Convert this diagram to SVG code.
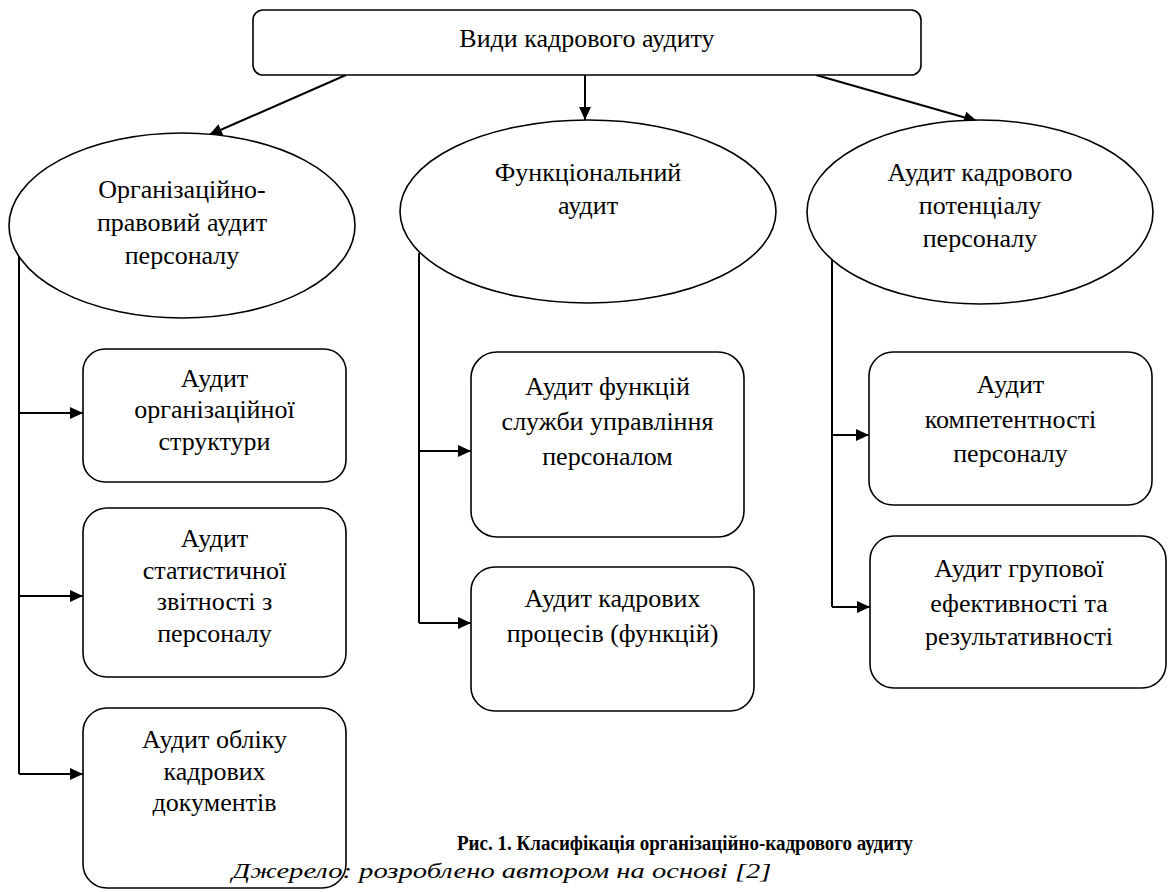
<svg xmlns="http://www.w3.org/2000/svg" width="1168" height="892" viewBox="0 0 1168 892">
<defs>
<marker id="ah" markerUnits="userSpaceOnUse" markerWidth="13" markerHeight="12" refX="13" refY="6" orient="auto">
<path d="M0,0 L13,6 L0,12 z" fill="#000"/>
</marker>
</defs>
<rect width="1168" height="892" fill="#fff"/>
<g id="connectors" fill="none" stroke="#000" stroke-width="2">
<path d="M346,75 L209,135" marker-end="url(#ah)"/>
<path d="M585,75 L585,120" marker-end="url(#ah)"/>
<path d="M816,75 L977,121" marker-end="url(#ah)"/>
<path d="M19,257 V774"/>
<path d="M19,413 H83" marker-end="url(#ah)"/>
<path d="M19,596 H83" marker-end="url(#ah)"/>
<path d="M19,774 H83" marker-end="url(#ah)"/>
<path d="M419,253 V623"/>
<path d="M419,451 H471" marker-end="url(#ah)"/>
<path d="M419,623 H471" marker-end="url(#ah)"/>
<path d="M832,259 V607"/>
<path d="M832,435 H869" marker-end="url(#ah)"/>
<path d="M832,607 H870" marker-end="url(#ah)"/>
</g>
<g id="root">
<rect x="253" y="10" width="668" height="65" rx="10" fill="#fff" stroke="#000" stroke-width="1.6"/>
<text x="587" y="47" font-family="Times New Roman" font-size="26" text-anchor="middle">Види кадрового аудиту</text>
</g>
<g id="e1">
<ellipse cx="182" cy="225.5" rx="173" ry="92.5" fill="#fff" stroke="#000" stroke-width="1.6"/>
<text x="182" y="198" font-family="Times New Roman" font-size="26" text-anchor="middle">Організаційно-</text>
<text x="182" y="231" font-family="Times New Roman" font-size="26" text-anchor="middle">правовий аудит</text>
<text x="182" y="264" font-family="Times New Roman" font-size="26" text-anchor="middle">персоналу</text>
</g>
<g id="e2">
<ellipse cx="588" cy="211.5" rx="188" ry="91.5" fill="#fff" stroke="#000" stroke-width="1.6"/>
<text x="588" y="181" font-family="Times New Roman" font-size="26" text-anchor="middle">Функціональний</text>
<text x="588" y="214" font-family="Times New Roman" font-size="26" text-anchor="middle">аудит</text>
</g>
<g id="e3">
<ellipse cx="980" cy="212" rx="173" ry="92" fill="#fff" stroke="#000" stroke-width="1.6"/>
<text x="980" y="181" font-family="Times New Roman" font-size="26" text-anchor="middle">Аудит кадрового</text>
<text x="980" y="214" font-family="Times New Roman" font-size="26" text-anchor="middle">потенціалу</text>
<text x="980" y="247" font-family="Times New Roman" font-size="26" text-anchor="middle">персоналу</text>
</g>
<g id="b1">
<rect x="83" y="349" width="263" height="133" rx="22" fill="#fff" stroke="#000" stroke-width="1.6"/>
<text x="214.5" y="387" font-family="Times New Roman" font-size="26" text-anchor="middle">Аудит</text>
<text x="214.5" y="418" font-family="Times New Roman" font-size="26" text-anchor="middle">організаційної</text>
<text x="214.5" y="450" font-family="Times New Roman" font-size="26" text-anchor="middle">структури</text>
</g>
<g id="b2">
<rect x="83" y="508" width="263" height="169" rx="24" fill="#fff" stroke="#000" stroke-width="1.6"/>
<text x="214.5" y="547" font-family="Times New Roman" font-size="26" text-anchor="middle">Аудит</text>
<text x="214.5" y="579" font-family="Times New Roman" font-size="26" text-anchor="middle">статистичної</text>
<text x="214.5" y="610" font-family="Times New Roman" font-size="26" text-anchor="middle">звітності з</text>
<text x="214.5" y="642" font-family="Times New Roman" font-size="26" text-anchor="middle">персоналу</text>
</g>
<g id="b3">
<rect x="83" y="708" width="263" height="180" rx="24" fill="#fff" stroke="#000" stroke-width="1.6"/>
<text x="214.5" y="748" font-family="Times New Roman" font-size="26" text-anchor="middle">Аудит обліку</text>
<text x="214.5" y="780" font-family="Times New Roman" font-size="26" text-anchor="middle">кадрових</text>
<text x="214.5" y="811" font-family="Times New Roman" font-size="26" text-anchor="middle">документів</text>
</g>
<g id="b4">
<rect x="471" y="352" width="273" height="185" rx="26" fill="#fff" stroke="#000" stroke-width="1.6"/>
<text x="607.5" y="395" font-family="Times New Roman" font-size="26" text-anchor="middle">Аудит функцій</text>
<text x="607.5" y="430" font-family="Times New Roman" font-size="26" text-anchor="middle">служби управління</text>
<text x="607.5" y="465" font-family="Times New Roman" font-size="26" text-anchor="middle">персоналом</text>
</g>
<g id="b5">
<rect x="471" y="567" width="283" height="144" rx="24" fill="#fff" stroke="#000" stroke-width="1.6"/>
<text x="612.5" y="607" font-family="Times New Roman" font-size="26" text-anchor="middle">Аудит кадрових</text>
<text x="612.5" y="642" font-family="Times New Roman" font-size="26" text-anchor="middle">процесів (функцій)</text>
</g>
<g id="b6">
<rect x="869" y="352" width="283" height="153" rx="24" fill="#fff" stroke="#000" stroke-width="1.6"/>
<text x="1010.5" y="393" font-family="Times New Roman" font-size="26" text-anchor="middle">Аудит</text>
<text x="1010.5" y="428" font-family="Times New Roman" font-size="26" text-anchor="middle">компетентності</text>
<text x="1010.5" y="462" font-family="Times New Roman" font-size="26" text-anchor="middle">персоналу</text>
</g>
<g id="b7">
<rect x="870" y="536" width="296" height="152" rx="24" fill="#fff" stroke="#000" stroke-width="1.6"/>
<text x="1019" y="577" font-family="Times New Roman" font-size="26" text-anchor="middle">Аудит групової</text>
<text x="1019" y="612" font-family="Times New Roman" font-size="26" text-anchor="middle">ефективності та</text>
<text x="1019" y="645" font-family="Times New Roman" font-size="26" text-anchor="middle">результативності</text>
</g>
<g id="caption">
<text transform="translate(457,850) scale(0.865,1)" font-family="Times New Roman" font-size="22" font-weight="bold">Рис. 1. Класифікація організаційно-кадрового аудиту</text>
<text transform="translate(232,878) scale(1.3,1)" font-family="Times New Roman" font-size="22" font-style="italic">Джерело: розроблено автором на основі [2]</text>
</g>
</svg>
